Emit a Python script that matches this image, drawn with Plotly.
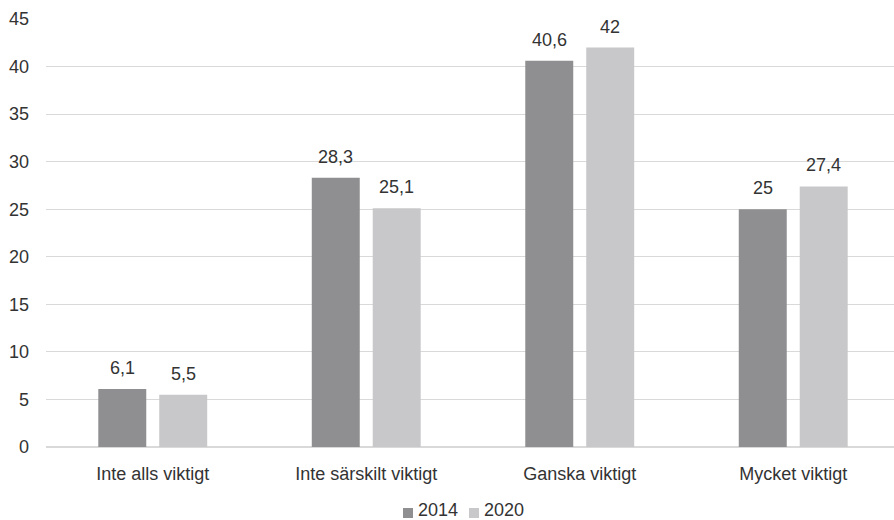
import plotly.graph_objects as go

categories = ["Inte alls viktigt", "Inte särskilt viktigt", "Ganska viktigt", "Mycket viktigt"]
values_2014 = [6.1, 28.3, 40.6, 25.0]
values_2020 = [5.5, 25.1, 42.0, 27.4]
y_ticks = [0, 5, 10, 15, 20, 25, 30, 35, 40, 45]

FONT = "Liberation Sans, Arial, sans-serif"
TEXT = "#333333"
FS = 18
series = [("2014", values_2014, "#8f8f91"), ("2020", values_2020, "#c8c8ca")]


def fmt(v):
    s = f"{v:g}"
    return s.replace(".", ",")


fig = go.Figure()
for name, vals, color in series:
    fig.add_trace(go.Bar(
        name=name, x=categories, y=vals, marker_color=color, marker_line_width=0,
        showlegend=False,
    ))

# value labels above each bar
annotations = []
offsets = [-30.5, 30.5]
for (name, vals, color), dx in zip(series, offsets):
    for cat, v in zip(categories, vals):
        annotations.append(dict(
            x=cat, y=v, xref="x", yref="y", text=fmt(v), showarrow=False,
            xanchor="center", yanchor="bottom", xshift=dx, yshift=9,
            font=dict(family=FONT, size=FS, color=TEXT),
        ))

# legend drawn as small squares with labels below the plot
shapes = []
legend_items = [("2014", "#8f8f91", 403), ("2020", "#c8c8ca", 469)]
for label, color, px in legend_items:
    shapes.append(dict(type="rect", xref="paper", yref="paper",
                       x0=(px - 46) / 848, x1=(px + 10 - 46) / 848,
                       y0=-(508 - 447) / 428, y1=-(518 - 447) / 428,
                       fillcolor=color, line=dict(width=0)))
    annotations.append(dict(
        x=(px + 14 - 46) / 848, y=-(510 - 447) / 428, xref="paper", yref="paper",
        text=label, showarrow=False, xanchor="left", yanchor="middle",
        height=18, borderpad=0,
        font=dict(family=FONT, size=FS, color=TEXT),
    ))

fig.update_layout(
    width=894, height=520,
    margin=dict(l=46, r=0, t=19, b=73),
    paper_bgcolor="white", plot_bgcolor="white",
    separators=", ",
    barmode="group", bargap=0.429, bargroupgap=0.213,
    font=dict(family=FONT, size=FS, color=TEXT),
    showlegend=False,
    annotations=annotations,
    shapes=shapes,
    xaxis=dict(range=[-0.5, 3.472], showgrid=False, showline=False, ticks="",
               tickfont=dict(size=FS, color=TEXT), ticklabelstandoff=14),
    yaxis=dict(range=[0, 45], tickvals=y_ticks, showgrid=True, gridcolor="#d9d9d9",
               gridwidth=1, zeroline=True, zerolinecolor="#d9d9d9", showline=False,
               tickfont=dict(size=FS, color=TEXT), ticklabelstandoff=16),
)

fig.write_html("out.html")
